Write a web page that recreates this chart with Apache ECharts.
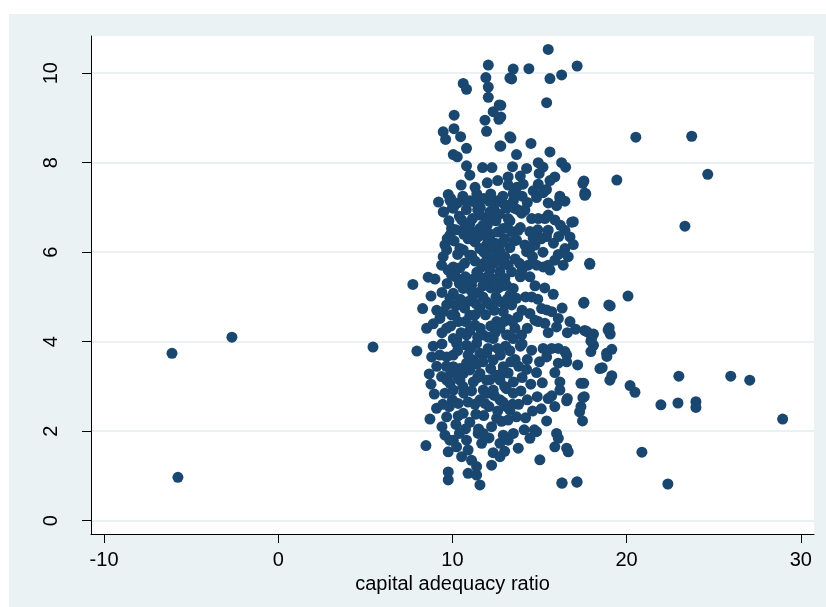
<!DOCTYPE html>
<html>
<head>
<meta charset="utf-8">
<script src="https://cdn.jsdelivr.net/npm/echarts@6/dist/echarts.min.js"></script>
<style>
html,body{margin:0;padding:0;background:#ffffff;}
#chart{width:826px;height:607px;}
</style>
</head>
<body>
<div id="chart"></div>
<script>
// x: capital adequacy ratio, y: value
const xTicks = [-10, 0, 10, 20, 30];
const yTicks = [0, 2, 4, 6, 8, 10];
const xAxisName = 'capital adequacy ratio';

const outlierPoints = [
  [-6.10,3.74],[-5.76,0.97],[-2.66,4.10],[5.44,3.88],[7.73,5.28],[7.96,3.79],
  [20.53,8.57],[23.74,8.59],[24.66,7.74],[19.44,7.61],[23.35,6.58],[20.08,5.02],
  [19.06,4.80],[19.0,4.31],[19.06,4.17],[19.15,3.83],[18.87,3.67],[20.2,3.02],
  [20.48,2.87],[23.0,3.23],[25.98,3.23],[27.07,3.14],[21.97,2.59],[22.95,2.63],
  [23.98,2.66],[23.98,2.53],[28.96,2.27],[20.88,1.53],[22.37,0.82],[16.28,0.84],
  [17.14,0.86],[19.15,3.24],[17.54,3.07],[17.49,2.75],[17.3,2.43],[16.6,2.73],
  [18.6,3.42],[18.1,4.17],[18.1,3.92],[17.6,4.25],[17.54,4.86],[17.88,5.75],
  [17.49,7.54],[17.6,7.32],[16.85,6.67]
];

const topBand = [
  [12.06,10.18],[11.92,9.90],[12.06,9.69],[12.06,9.46],[10.62,9.77],[10.81,9.64],
  [12.69,9.29],[12.34,9.14],[12.67,8.97],[11.87,8.95],[11.96,8.70],[10.10,9.06],
  [10.09,8.76],[9.47,8.69],[9.61,8.52],[10.47,8.58],[10.81,8.32],[10.05,8.18],
  [10.28,8.13],[12.73,8.37],[13.30,8.58],[13.30,9.89],[15.50,10.53],[13.49,10.09],
  [14.39,10.10],[17.16,10.16],[13.40,9.87],[15.60,9.88],[16.27,9.96],[15.41,9.34],
  [12.78,9.28],[12.78,9.02],[13.36,8.55],[14.51,8.43],[15.60,8.24],[13.68,8.18],
  [12.78,8.37],[14.93,8.0],[16.27,8.0]
];

const band7to8 = [
  [10.81,7.93],[11.0,7.72],[11.73,7.89],[12.27,7.89],[9.76,7.29],[13.45,7.91],
  [14.26,7.87],[14.98,7.76],[13.20,7.68],[15.88,7.68],[17.55,7.59],[17.66,7.30],
  [14.06,7.52],[14.93,7.52],[13.2,7.5],[13.49,7.31],[14.64,7.37],[15.21,7.33],
  [16.17,7.25],[9.2,7.12],[9.5,6.9],[9.9,7.2],[10.3,7.1],[10.6,7.25],[11.0,7.15],
  [11.4,7.3],[11.8,7.2],[12.2,7.3],[12.6,7.15],[12.9,7.25],[13.1,7.05],[10.0,7.0],
  [10.8,6.95],[11.6,7.0],[12.4,6.95],[13.5,7.15],[14.0,7.25],[14.3,7.11],[14.83,7.22],
  [16.17,7.20],[16.46,7.14],[15.98,7.04],[15.4,7.4],[15.6,7.6],[16.5,7.9],[15.2,7.9],
  [13.9,7.7],[12.6,7.6],[12.0,7.55],[11.3,7.45],[10.5,7.5],[13.7,7.45],[15.5,7.1],
  [17.6,7.27]
];

const band55to7 = [
  [9.47,6.90],[9.57,6.16],[9.67,6.05],[9.47,5.90],[9.38,5.71],[10.05,5.67],[10.43,5.65],
  [9.95,5.49],[10.62,6.05],[11.0,5.93],[11.68,5.67],[11.58,5.45],[11.87,5.34],[10.81,5.23],
  [11.1,5.26],[9.86,7.16],[10.05,6.98],[10.53,6.72],[11.0,6.64],[9.95,6.53],[9.86,6.38],
  [10.71,6.57],[11.58,6.53],[11.87,6.38],[11.96,6.16],[12.15,6.23],[12.34,6.08],[12.73,6.01],
  [12.54,5.90],[12.92,6.53],[13.11,6.98],[12.73,7.13],[12.15,7.13],[11.58,7.16],[11.19,7.13],
  [10.81,7.13],[10.43,6.08],[11.1,5.93],[12.73,5.56],[12.82,5.34],[13.11,5.26],[11.58,6.83],
  [11.96,6.75],[12.34,6.83],[11.29,6.23],[11.58,6.08],
  [13.01,7.05],[13.59,6.98],[13.97,6.87],[14.16,6.94],[13.2,6.75],[14.55,6.75],[14.93,6.75],
  [15.5,6.83],[15.88,6.72],[15.31,6.75],[16.94,6.68],[15.5,6.49],[16.46,6.49],[16.75,6.34],
  [16.94,6.17],[13.40,6.46],[13.78,6.49],[14.45,6.46],[14.64,6.31],[13.68,6.27],[14.16,6.16],
  [14.45,6.08],[14.74,6.16],[14.26,6.01],[13.01,5.90],[13.2,5.71],[13.40,5.56],[16.46,6.08],
  [16.08,5.95],[16.65,5.90],[15.88,5.82],[16.36,5.71],[14.35,5.71],[14.83,5.71],[15.21,5.67],
  [15.6,5.60],[15.5,5.71],[17.89,5.73],
  [12.0,6.6],[12.5,6.7],[13.0,6.3],[12.2,6.4],[12.8,6.2],[13.3,6.1],[12.0,5.9],[12.4,5.75],
  [11.3,5.8],[10.9,6.3],[10.2,6.5],[10.4,6.8],[11.2,6.45],[9.8,6.7],[10.1,6.25],[13.6,5.85],
  [14.0,5.6],[14.6,5.9],[15.2,6.0],[15.8,6.2],[16.2,6.6],[15.4,6.35],[14.9,6.5],[13.9,6.55],
  [12.6,6.45],[10.7,5.75],[9.75,5.6],[11.8,6.0],[13.3,6.7],[13.75,6.95],
  [11.45,6.95],[11.75,6.6],[12.15,6.9],[12.45,6.2],[12.05,6.3],[11.5,6.35],[11.15,6.75],
  [10.65,6.4],[10.3,5.95],[10.75,5.45],[11.4,5.55],[12.15,5.6],[12.9,5.75],[13.55,6.25],
  [13.15,6.55],[12.7,6.85],[9.7,6.3],[10.2,5.45],[11.8,5.75],[13.85,5.75],[14.45,5.45],
  [15.1,6.3],[16.1,6.35]
];

const band4to55 = [
  [8.61,5.44],[8.77,5.02],[8.29,4.74],[8.52,4.30],
  [10.05,5.08],[9.86,4.97],[9.67,4.82],[9.47,4.67],[9.28,4.52],[9.67,4.30],[10.14,4.59],
  [10.33,4.45],[11.0,4.59],[11.29,4.37],[11.58,4.74],[11.96,4.89],[12.15,4.82],[10.62,5.19],
  [11.19,5.04],[10.05,4.07],[10.81,4.15],[11.77,4.15],[12.54,4.45],[12.92,4.67],[12.73,4.30],
  [13.11,4.15],[12.34,4.07],
  [14.74,5.25],[15.79,5.06],[14.55,5.0],[17.55,4.88],[18.98,4.82],[18.94,4.26],[17.74,4.22],
  [17.99,4.07],[16.75,4.45],[17.07,4.28],[15.12,4.74],[15.41,4.71],[15.70,4.67],[16.08,4.52],
  [15.98,4.33],[14.45,4.63],[14.74,4.48],[15.31,4.41],[14.93,4.45],[13.59,4.30],[13.97,4.15],
  [13.49,4.07],[13.2,4.15],[13.01,5.41],[13.49,5.19],[13.68,4.97],[13.30,5.04],[13.01,4.82],
  [13.40,4.82],
  [12.2,5.2],[12.5,5.0],[12.0,5.45],[11.5,5.1],[10.9,4.9],[10.4,5.3],[10.7,4.75],[11.3,4.6],
  [11.9,4.6],[12.4,4.7],[12.2,4.35],[11.6,4.3],[11.0,4.25],[10.5,4.2],[9.9,4.35],[9.4,4.2],
  [9.1,4.7],[9.4,5.1],[10.2,4.8],[12.9,5.25],[13.9,5.45],[14.2,5.0],[14.0,4.7],[13.75,4.55],
  [14.3,4.3],[12.7,4.9],[11.2,5.4],[9.7,5.3],[9.0,5.4],[8.9,4.4],[16.3,4.75],[16.6,4.2],
  [15.5,4.2],[14.9,4.95],[15.3,5.2],[13.2,4.5],
  [11.75,5.0],[11.05,5.15],[10.45,4.95],[11.35,4.85],[12.05,4.1],[12.45,4.2],[11.45,4.1],
  [10.75,4.45],[9.95,4.6],[10.25,4.05],[12.65,5.2],[13.15,4.95],[12.35,5.4],[11.75,5.25],
  [12.95,4.45],[13.45,4.45]
];

const band3to4 = [
  [8.81,3.66],[9.28,3.70],[9.67,3.66],[10.05,3.70],[8.67,3.28],[8.77,3.05],
  [9.38,3.22],[9.67,3.14],[9.86,3.07],[9.57,2.85],[10.05,2.92],[10.43,3.14],[10.62,3.29],
  [11.0,3.37],[10.81,3.52],[11.19,3.59],[11.58,3.74],[10.05,3.44],[10.43,3.40],[11.58,3.29],
  [11.96,3.14],[11.77,2.92],[12.34,2.92],[12.73,3.14],[12.92,3.44],[12.34,3.59],[11.96,3.74],
  [12.73,2.70],[13.11,2.55],[11.39,3.96],[10.81,3.92],[10.24,3.96],
  [17.95,4.01],[17.95,3.78],[18.85,3.74],[18.47,3.40],[19.04,3.14],[17.19,3.48],[16.56,3.70],
  [16.08,3.52],[15.88,3.31],[16.56,3.55],[17.38,3.07],[16.17,3.10],[16.17,2.92],[15.16,3.08],
  [14.26,3.38],[14.83,3.31],[14.55,3.81],[15.21,3.85],[15.70,3.85],[16.08,3.85],[16.46,3.78],
  [15.41,3.66],
  [13.3,3.8],[13.6,3.6],[13.9,3.9],[13.2,3.3],[13.5,3.1],[14.0,3.2],[14.3,3.6],[13.8,3.45],
  [12.6,3.85],[12.2,3.4],[11.4,3.5],[10.9,3.7],[10.3,3.8],[9.4,3.95],[9.1,3.45],[9.9,3.3],
  [12.5,3.25],[13.0,3.0],[14.5,3.05],[14.0,3.95],[15.0,3.55],[11.2,3.1],[10.6,3.0],[8.9,3.9],
  [11.75,3.55],[12.05,3.85],[12.75,3.7],[13.05,3.9],[11.05,3.85],[10.25,3.25],[11.45,3.2],
  [12.15,3.15],[12.85,3.3],[9.65,3.45],[13.35,3.55]
];

const band2to3 = [
  [8.96,2.83],[9.09,2.51],[8.71,2.27],[9.67,2.32],[10.33,2.34],[10.62,2.40],[11.35,2.38],
  [9.82,2.55],[10.33,2.62],[11.58,2.70],[11.87,2.62],[12.25,2.10],[12.54,2.29],[12.82,2.22],
  [12.92,1.91],[12.73,1.73],
  [17.57,2.77],[17.38,2.55],[17.47,2.23],[16.56,2.68],[15.5,2.73],[15.88,2.55],[15.70,2.79],
  [14.87,2.77],[13.93,2.90],[13.49,2.85],[15.41,2.23],[14.7,2.03],[14.83,1.99],[14.12,2.03],
  [14.45,1.84],[13.68,2.32],[13.30,2.47],[13.2,2.25],
  [10.0,2.7],[10.9,2.65],[11.1,2.9],[10.2,2.15],[11.0,2.2],[11.8,2.35],[12.1,2.55],[12.4,2.8],
  [12.9,2.65],[13.1,2.95],[13.8,2.6],[14.3,2.7],[14.6,2.45],[15.1,2.5],[14.2,2.3],[11.5,2.05],
  [9.4,2.1],[12.6,2.45],
  [10.65,2.85],[11.3,2.6],[9.45,2.6],[10.75,2.05],[12.0,2.85],[13.45,2.6]
];

const bandBelow2 = [
  [8.48,1.68],[9.57,1.91],[9.85,1.80],[9.76,1.54],[10.05,1.80],[10.24,1.65],[10.53,1.43],
  [10.81,1.80],[10.9,1.58],[11.1,1.35],[11.39,1.21],[10.9,1.06],[11.39,1.02],[11.58,0.80],
  [11.68,1.73],[11.48,1.95],[11.77,1.95],[12.34,1.52],[12.73,1.43],[12.25,1.24],[9.76,1.09],
  [9.76,0.91],[15.98,1.95],[16.08,1.84],[15.88,1.65],[16.56,1.62],[16.65,1.54],[13.78,1.62],
  [15.02,1.36],[16.30,0.84],[17.16,0.87],[13.2,1.8],[13.5,1.95],[12.1,1.85],[13.0,1.55],
  [10.4,1.95]
];

const allPoints = [].concat(outlierPoints, topBand, band7to8, band55to7, band4to55, band3to4, band2to3, bandBelow2);

const chart = echarts.init(document.getElementById('chart'), null, {renderer: 'canvas'});
const FONT = 'Liberation Sans, Arial, sans-serif';
const option = {
  backgroundColor: '#ffffff',
  animation: false,
  graphic: [{
    type: 'rect', z: -10, silent: true,
    shape: {x: 9, y: 14, width: 817, height: 593},
    style: {fill: '#eaf2f3'}
  }],
  grid: {
    left: 91, top: 36, right: 12, bottom: 73,
    show: true, backgroundColor: '#ffffff', borderWidth: 0
  },
  xAxis: {
    type: 'value', min: -10.75, max: 30.76,
    name: xAxisName, nameLocation: 'middle', nameGap: 33,
    nameTextStyle: {fontFamily: FONT, fontSize: 20, color: '#000'},
    axisLine: {show: true, onZero: false, lineStyle: {color: '#000', width: 1}},
    axisTick: {show: true, length: 9, customValues: xTicks, lineStyle: {color: '#000'}},
    axisLabel: {customValues: xTicks, fontFamily: FONT, fontSize: 20, color: '#000', margin: 16},
    splitLine: {show: false}
  },
  yAxis: {
    type: 'value', min: -0.297, max: 10.83,
    axisLine: {show: true, onZero: false, lineStyle: {color: '#000', width: 1}},
    axisTick: {show: true, length: 9, customValues: yTicks, lineStyle: {color: '#000'}},
    axisLabel: {customValues: yTicks, rotate: 90, fontFamily: FONT, fontSize: 20, color: '#000', margin: 30},
    splitLine: {show: true, lineStyle: {color: '#e2ecef', width: 1.5}}
  },
  series: [{
    type: 'scatter',
    data: allPoints,
    symbol: 'circle',
    symbolSize: 11,
    itemStyle: {color: '#1a476f', opacity: 1},
    emphasis: {disabled: true}
  }]
};
chart.setOption(option);
</script>
</body>
</html>
